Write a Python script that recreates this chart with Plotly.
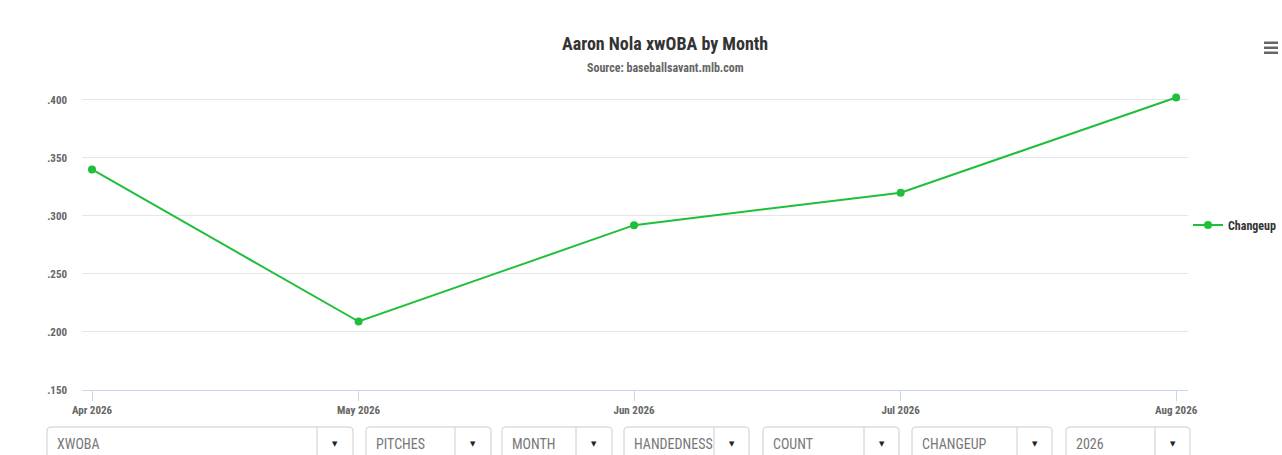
import plotly.graph_objects as go

W, H = 1282, 455
L, R, B = 82, 1188, 390  # plot area in pixels
Y_LO, Y_HI = 0.15, 0.405
PX_PER_UNIT = 290 / 0.25
T = B - (Y_HI - Y_LO) * PX_PER_UNIT

months = ["2026-04-01", "2026-05-01", "2026-06-01", "2026-07-01", "2026-08-01"]
month_labels = ["Apr 2026", "May 2026", "Jun 2026", "Jul 2026", "Aug 2026"]
xwoba = [0.340, 0.209, 0.292, 0.320, 0.402]
series_name = "Changeup"

y_ticks = [0.150, 0.200, 0.250, 0.300, 0.350, 0.400]
y_tick_text = [".150", ".200", ".250", ".300", ".350", ".400"]

dropdown_labels = ["XWOBA", "PITCHES", "MONTH", "HANDEDNESS", "COUNT", "CHANGEUP", "2026"]
# left, divider, right of each select box (px)
dropdown_boxes = [(47, 317, 353), (366, 455, 491), (502, 576, 612), (624, 714, 749),
                  (763, 864, 899), (912, 1017, 1052), (1066, 1155, 1190)]

FONT = "Roboto Condensed, Liberation Sans Narrow, Roboto, sans-serif"
GREEN = "#20bf3b"


def px(x):
    return (x - L) / (R - L)


def py(y):
    return (B - y) / (B - T)


def rounded_box(x0, y0, x1, y1, r=4):
    return (f"M {px(x0 + r)} {py(y0)} L {px(x1 - r)} {py(y0)} "
            f"Q {px(x1)} {py(y0)} {px(x1)} {py(y0 + r)} L {px(x1)} {py(y1)} "
            f"L {px(x0)} {py(y1)} L {px(x0)} {py(y0 + r)} "
            f"Q {px(x0)} {py(y0)} {px(x0 + r)} {py(y0)} Z")


fig = go.Figure()
fig.add_trace(go.Scatter(
    x=months, y=xwoba, name=series_name, mode="lines+markers",
    line=dict(color=GREEN, width=2), marker=dict(color=GREEN, size=8),
    cliponaxis=False,
))

shapes = []
annotations = []

# select boxes below the chart
for label, (x0, xd, x1) in zip(dropdown_labels, dropdown_boxes):
    shapes.append(dict(type="path", xref="paper", yref="paper", path=rounded_box(x0, 427, x1, 475),
                       line=dict(color="#cccccc", width=1), fillcolor="white", layer="above"))
    shapes.append(dict(type="line", xref="paper", yref="paper", x0=px(xd), x1=px(xd),
                       y0=py(427), y1=py(475), line=dict(color="#cccccc", width=1)))
    annotations.append(dict(text=label, xref="paper", yref="paper", x=px(x0 + 8), y=py(444),
                            xanchor="left", yanchor="middle", showarrow=False,
                            font=dict(family=FONT, size=14, color="#777777")))
    annotations.append(dict(text="▼", xref="paper", yref="paper", x=px((xd + x1) / 2), y=py(444),
                            xanchor="center", yanchor="middle", showarrow=False,
                            font=dict(family="DejaVu Sans", size=7, color="#222222")))

# hamburger menu icon
for yy in (43, 48, 53):
    shapes.append(dict(type="line", xref="paper", yref="paper", x0=px(1264), x1=px(1278),
                       y0=py(yy), y1=py(yy), line=dict(color="#666666", width=2.5)))

annotations.append(dict(text="<b>Aaron Nola xwOBA by Month</b>", xref="paper", yref="paper",
                        x=px(665), y=py(44), xanchor="center", yanchor="middle", showarrow=False,
                        font=dict(family=FONT, size=18, color="#333333")))
annotations.append(dict(text="<b>Source: baseballsavant.mlb.com</b>", xref="paper", yref="paper",
                        x=px(665), y=py(68), xanchor="center", yanchor="middle", showarrow=False,
                        font=dict(family=FONT, size=12, color="#666666")))

fig.update_layout(
    width=W, height=H,
    margin=dict(l=L, r=W - R, t=T, b=H - B),
    paper_bgcolor="white", plot_bgcolor="white",
    font=dict(family=FONT, size=11, color="#666666"),
    showlegend=True,
    legend=dict(xref="container", yref="container",
                x=1188 / W, y=1 - 225 / H,
                xanchor="left", yanchor="middle",
                font=dict(family=FONT, size=12, color="#333333", weight="bold"),
                bgcolor="rgba(0,0,0,0)"),
    shapes=shapes,
    annotations=annotations,
)
fig.update_xaxes(
    type="date", range=["2026-03-30 21:00", "2026-08-02 08:00"],
    tickvals=months, ticktext=["<b>" + m + "</b>" for m in month_labels],
    showgrid=False, showline=True, linecolor="#ccd6eb", linewidth=1,
    ticks="outside", ticklen=10, tickcolor="#ccd6eb",
    tickfont=dict(family=FONT, size=11, color="#666666"),
    zeroline=False, automargin=False,
)
fig.update_yaxes(
    range=[Y_LO, Y_HI], tickvals=y_ticks, ticktext=["<b>" + t + "</b>" for t in y_tick_text],
    showgrid=True, gridcolor="#e6e6e6", gridwidth=1, zeroline=False, showline=False,
    ticklabelstandoff=14, automargin=False,
    tickfont=dict(family=FONT, size=11, color="#666666"),
)

# drop the browser's default body margin so the figure sits at the page corner
fig.write_html("out.html", config={"displayModeBar": False},
               post_script="document.body.style.margin = '0';")
